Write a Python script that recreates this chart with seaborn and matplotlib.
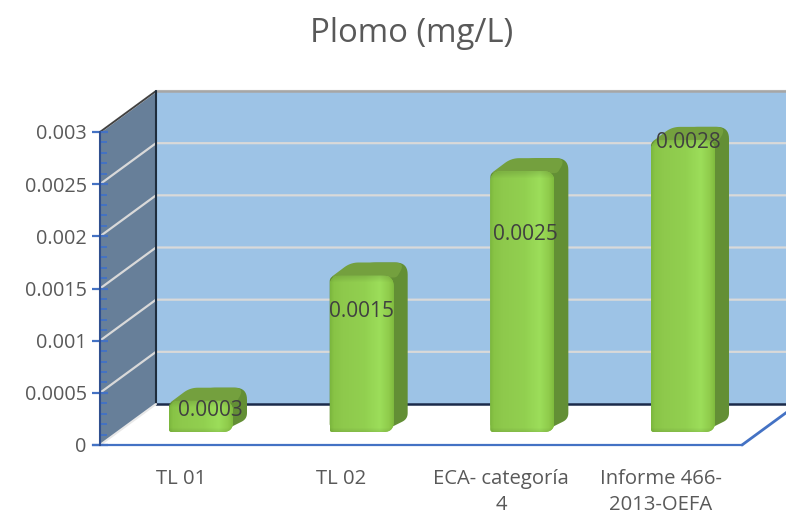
import numpy as np
import matplotlib
matplotlib.use("Agg")
import matplotlib.pyplot as plt
from matplotlib.patches import Polygon, PathPatch, Rectangle
from matplotlib.path import Path
from matplotlib.ticker import FixedLocator
import seaborn as sns

# --- data ---
categories = ["TL 01", "TL 02", "ECA- categoría\n4", "Informe 466-\n2013-OEFA"]
values = [0.0003, 0.0015, 0.0025, 0.0028]
value_labels = ["0.0003", "0.0015", "0.0025", "0.0028"]
y_ticks = [0, 0.0005, 0.001, 0.0015, 0.002, 0.0025, 0.003]
y_tick_labels = ["0", "0.0005", "0.001", "0.0015", "0.002", "0.0025", "0.003"]
y_minor_step = 0.0001
title = "Plomo (mg/L)"

# --- layout (pixels of the 786x516 canvas) ---
W, H = 786, 516
BAR0_PX, BAR_STEP = 201.0, 160.67
BASE_PX, PX_PER_UNIT = 445.0, 313.0 / 0.003
AXIS_PX = 100
DEPTH_X, DEPTH_Y = 56, 41
FLOOR_RIGHT_PX = 742
BAR_W_PX, BAR_LIFT = 64, 13
BAR_DX, BAR_DY = 14, 13
LABEL_POS = [(210, 410), (362, 312), (525, 235), (688, 143)]
XLABEL_PX = [181, 341, 501, 661]

BLUE = "#4472C4"
TEXT = "#595959"


def X(px):
    return (np.asarray(px, float) - BAR0_PX) / BAR_STEP


def Y(py):
    return (BASE_PX - np.asarray(py, float)) / PX_PER_UNIT


def dx(px):
    return px / BAR_STEP


def dy(py):
    return py / PX_PER_UNIT


sns.set_theme(style="white")
plt.rcParams["font.family"] = ["Open Sans", "DejaVu Sans"]

fig = plt.figure(figsize=(W / 100, H / 100), dpi=100, facecolor="white")
ax = fig.add_axes([0, 0, 1, 1], facecolor="white")
ax.set_axisbelow(False)

sns.barplot(x=categories, y=values, color="#8FCB4E", saturation=1,
            width=BAR_W_PX / BAR_STEP, ax=ax, zorder=5, linewidth=0)
ax.set_xlim(X(0), X(W))
ax.set_ylim(Y(H), Y(0))
ax.set_xlabel("")
ax.set_ylabel("")
ax.set_axisbelow(False)

ymax = y_ticks[-1]
left = X(AXIS_PX)
wall_x = left + dx(DEPTH_X)
wall_lift = dy(DEPTH_Y)
right = X(W)

# back wall and side wall
ax.add_patch(Rectangle((wall_x, wall_lift), right - wall_x, ymax, fc="#9DC3E6", ec="none", zorder=1))
ax.add_patch(Polygon([(left, 0), (wall_x, wall_lift), (wall_x, ymax + wall_lift), (left, ymax)],
                     fc="#677F99", ec="none", zorder=1))
# gridlines following the two walls
for v in y_ticks[1:]:
    ax.plot([left, wall_x, right], [v, v + wall_lift, v + wall_lift],
            color="#D9D9D9", lw=1.6, zorder=2, solid_joinstyle="miter")
ax.plot([wall_x, right], [ymax + wall_lift] * 2, color="#A6A6A6", lw=1.8, zorder=2.2)
ax.plot([left, wall_x], [ymax, ymax + wall_lift], color="#404040", lw=1.3, zorder=2.2)
ax.plot([wall_x, wall_x], [wall_lift, ymax + wall_lift], color="#1F2D3D", lw=1.5, zorder=2.2)
ax.plot([wall_x, right], [wall_lift, wall_lift], color="#1B2A4A", lw=1.8, zorder=2.2)
ax.plot([left, wall_x], [0, wall_lift], color="#E8E8E8", lw=1.5, zorder=2.2)
# floor edge continuing to the right
floor_right = X(FLOOR_RIGHT_PX)
ax.plot([floor_right, floor_right + dx(DEPTH_X)], [0, wall_lift], color=BLUE, lw=2, zorder=2.4)

# axes lines and ticks
for s in ("top", "right"):
    ax.spines[s].set_visible(False)
ax.spines["left"].set_position(("data", left))
ax.spines["left"].set_bounds(0, ymax)
ax.spines["left"].set_color("#2F4F8F")
ax.spines["left"].set_linewidth(1.5)
ax.spines["left"].set_zorder(3)
ax.spines["bottom"].set_position(("data", 0))
ax.spines["bottom"].set_bounds(X(AXIS_PX - 7), floor_right)
ax.spines["bottom"].set_color(BLUE)
ax.spines["bottom"].set_linewidth(1.6)
ax.set_yticks(y_ticks, y_tick_labels)
n_minor = int(round(ymax / y_minor_step))
ax.yaxis.set_minor_locator(FixedLocator([i * y_minor_step for i in range(n_minor + 1)]))
ax.tick_params(axis="y", which="major", direction="inout", length=11, width=1.6, color=BLUE,
               labelsize=14.3, labelcolor=TEXT, pad=4, left=True)
ax.tick_params(axis="y", which="minor", direction="in", length=5, width=1.4, color=BLUE, left=True)
ax.set_xticks(X(XLABEL_PX), categories)
ax.tick_params(axis="x", length=0, labelsize=14.6, labelcolor=TEXT, pad=17)
for t in ax.get_xticklabels():
    t.set_linespacing(1.42)
ax.set_xlim(X(0), X(W))
ax.set_ylim(Y(H), Y(0))


def rounded(pts, rs, n=10):
    """Rounded polygon: pts in data units, corner radii in pixels."""
    p = np.array([[a * BAR_STEP, b * PX_PER_UNIT] for a, b in pts], float)
    out = []
    m = len(p)
    for i in range(m):
        a, b, c = p[i - 1], p[i], p[(i + 1) % m]
        r = rs[i]
        u = (a - b) / np.linalg.norm(a - b)
        v = (c - b) / np.linalg.norm(c - b)
        s, e = b + u * r, b + v * r
        for t in np.linspace(0, 1, n):
            out.append((1 - t) ** 2 * s + 2 * t * (1 - t) * b + t ** 2 * e)
    out = np.array(out)
    return out / [BAR_STEP, PX_PER_UNIT]


stops = np.array([0, .06, .2, .55, .78, .92, 1.0])
c_r = np.array([0x7C, 0x88, 0x8E, 0x92, 0x9C, 0x90, 0x80])
c_g = np.array([0xB6, 0xC4, 0xC9, 0xD0, 0xDE, 0xCC, 0xBC])
c_b = np.array([0x3E, 0x46, 0x4C, 0x50, 0x5A, 0x4C, 0x3E])
u = np.linspace(0, 1, 128)
profile = np.stack([np.interp(u, stops, c) for c in (c_r, c_g, c_b)], axis=1) / 255

bars = [b for b in ax.patches if isinstance(b, Rectangle) and b.get_zorder() == 5]
lift = dy(BAR_LIFT)
ddx, ddy = dx(BAR_DX), dy(BAR_DY)
for bar, val in zip(bars, values):
    bar.set_y(lift)
    x0, w = bar.get_x(), bar.get_width()
    x1 = x0 + w
    y0, y1 = lift, lift + val
    # side face
    side = rounded([(x1 - dx(12), y0), (x1 + ddx, y0 + ddy), (x1 + ddx, y1 + ddy),
                    (x1 - dx(25), y1 + ddy), (x0, y1 - dy(2)), (x0, y0 + dy(6))],
                   [5, 6, min(12, val * PX_PER_UNIT / 2), 8, 4, 2])
    ax.add_patch(Polygon(side, fc="#638F35", ec="none", zorder=4))
    # top face
    top = rounded([(x0 + dx(1), y1 - dy(2)), (x0 + dx(21), y1 + ddy), (x1 + ddx - dx(2), y1 + ddy),
                   (x1 + dx(3), y1 - dy(2))],
                  [3, 8, 11, 3])
    ax.add_patch(Polygon(top, fc="#74A03E", ec="none", zorder=4.2))
    # front face, rounded, gradient shaded
    front = rounded([(x0, y0), (x1, y0), (x1, y1), (x0, y1)], [3, 10, 11, 11])
    clip = PathPatch(Path(np.vstack([front, front[0]]), closed=True), transform=ax.transData,
                     fc="none", ec="none")
    ax.add_patch(clip)
    bar.set_clip_path(clip)
    hpx = int(max(val * PX_PER_UNIT, 2))
    v = np.linspace(1, 0, max(hpx, 2))  # 1 at top
    img = np.tile(profile[None, :, :], (len(v), 1, 1))
    depth_px = (1 - v) * hpx
    top_k = np.clip(depth_px / 7.0, 0, 1)[:, None, None]
    bot_k = np.clip((hpx - depth_px) / 4.0, 0, 1)[:, None, None]
    img = img * (0.88 + 0.12 * top_k) * (0.92 + 0.08 * bot_k)
    im = ax.imshow(img, extent=(x0, x1, y0, y1), aspect="auto", zorder=5.1, interpolation="bilinear")
    im.set_clip_path(clip)

ax.set_xlim(X(0), X(W))
ax.set_ylim(Y(H), Y(0))

for (px, py), s in zip(LABEL_POS, value_labels):
    ax.text(X(px), Y(py), s, ha="center", va="center", fontsize=15, color="#404040", zorder=8)

fig.text(412 / W, 1 - 33 / H, title, ha="center", va="center", fontsize=23.7, color=TEXT)

fig.savefig("out.png", dpi=100, facecolor="white")
